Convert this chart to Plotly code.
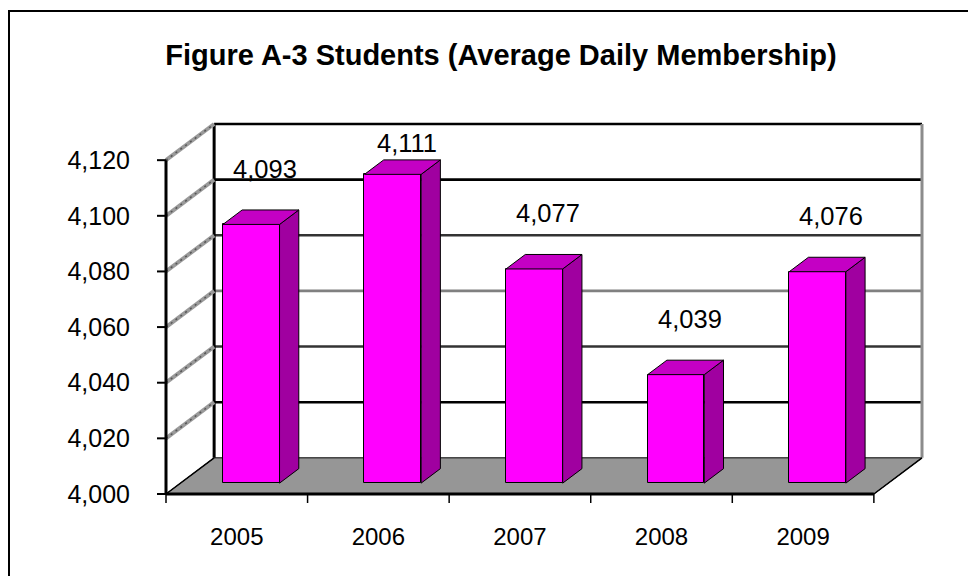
import plotly.graph_objects as go
import numpy as np

# ---- data ----
CATEGORIES = ["2005", "2006", "2007", "2008", "2009"]
VALUES = [4093, 4111, 4077, 4039, 4076]
Y_TICKS = [4000, 4020, 4040, 4060, 4080, 4100, 4120]
TITLE = "Figure A-3 Students (Average Daily Membership)"

# ---- style / 3D projection constants ----
BASE = Y_TICKS[0]
YMAX = Y_TICKS[-1]
DX = 0.34      # depth shift in category units
DY = 13.0      # depth shift in value units
F0, F1 = 0.3, 0.7   # bar front/back depth fractions
BW = 0.40      # bar width (category units)
TICK_X = 9 / 141.6
TICK_Y = 9 / 2.775
FONT = "Liberation Sans, Arial, sans-serif"

# page body has an 8px margin -> design in coordinates shifted by 8px
OFF = 8
FW, FH = 976 - OFF, 576 - OFF

n = len(CATEGORIES)
idx = np.arange(n)
x_left = -0.5
x_right = n - 0.5

fig = go.Figure()

# front faces of bars
fig.add_trace(go.Bar(
    x=idx + F0 * DX,
    y=[v - BASE for v in VALUES],
    base=BASE + F0 * DY,
    width=BW,
    marker=dict(color="#FF00FF", line=dict(color="black", width=1)),
    hoverinfo="skip",
))

shapes = []

def line(x0, y0, x1, y1, color="black", width=1, layer="below", dash=None):
    d = dict(type="line", x0=x0, y0=y0, x1=x1, y1=y1, xref="x", yref="y",
             line=dict(color=color, width=width), layer=layer)
    if dash:
        d["line"]["dash"] = dash
    shapes.append(d)

def poly(pts, fill, lcolor="black", lwidth=1, layer="above"):
    path = "M " + " L ".join(f"{px},{py}" for px, py in pts) + " Z"
    shapes.append(dict(type="path", path=path, xref="x", yref="y",
                       fillcolor=fill, line=dict(color=lcolor, width=lwidth), layer=layer))

# floor
poly([(x_left, BASE), (x_right, BASE), (x_right + DX, BASE + DY), (x_left + DX, BASE + DY)],
     "#969696", "black", 1, layer="below")

# back wall gridlines
grid_colors = {4020: "black", 4040: "#333333", 4060: "#808080", 4080: "#333333",
               4100: "black", 4120: "black"}
for v in Y_TICKS[1:]:
    line(x_left + DX, v + DY, x_right + DX, v + DY, grid_colors.get(v, "black"), 2.6)
# back wall edges
line(x_left + DX, BASE + DY, x_left + DX, YMAX + DY, "black", 3)
line(x_right + DX, BASE + DY, x_right + DX, YMAX + DY, "#8c8c8c", 3)
# right floor edge
line(x_right, BASE, x_right + DX, BASE + DY, "black", 1.5)
# left wall gridlines
for v in Y_TICKS[1:]:
    line(x_left, v, x_left + DX, v + DY, "#9a9a9a", 4)
    line(x_left, v, x_left + DX, v + DY, "#555555", 1.5, dash="2px,4px")
line(x_left, BASE, x_left + DX, BASE + DY, "black", 1.5)
# front axis line
line(x_left, BASE, x_left, YMAX, "black", 3)
# front floor edge
line(x_left, BASE, x_right, BASE, "black", 3)
# y ticks
for v in Y_TICKS:
    line(x_left - TICK_X, v, x_left, v, "black", 2)
# x ticks
for b in np.arange(n + 1) - 0.5:
    line(b, BASE, b, BASE - TICK_Y, "black", 1.5)

# side and top faces of bars
for i, v in enumerate(VALUES):
    xl = i - BW / 2 + F0 * DX
    xr = i + BW / 2 + F0 * DX
    ddx = (F1 - F0) * DX
    b0 = BASE + F0 * DY
    b1 = BASE + F1 * DY
    t0 = v + F0 * DY
    t1 = v + F1 * DY
    poly([(xr, b0), (xr, t0), (xr + ddx, t1), (xr + ddx, b1)], "#A000A0")
    poly([(xl, t0), (xr, t0), (xr + ddx, t1), (xl + ddx, t1)], "#C400C4")

# data labels
annotations = []
for i, v in enumerate(VALUES):
    annotations.append(dict(
        x=i + 0.2, y=min(v + 24, YMAX + 6), xref="x", yref="y",
        text=f"{v:,}", showarrow=False, xanchor="center", yanchor="middle",
        font=dict(family=FONT, size=25.5, color="black")))

# plot area in page pixels (reference coords), converted to figure coords
L, R, T, B = 157 - OFF, 926 - OFF, 120 - OFF, 503 - OFF
W, H = R - L, B - T
def px_x(p): return (p - OFF - L) / W
def px_y(p): return (B - (p - OFF)) / H
shapes.append(dict(type="rect", xref="paper", yref="paper",
                   x0=px_x(9), y0=px_y(700), x1=px_x(1100), y1=px_y(11),
                   line=dict(color="black", width=2), fillcolor="rgba(0,0,0,0)", layer="above"))

fig.update_layout(
    width=FW, height=FH,
    margin=dict(l=L, r=FW - R, t=T, b=FH - B),
    paper_bgcolor="white", plot_bgcolor="white",
    showlegend=False,
    shapes=shapes,
    annotations=annotations,
    title=dict(text=TITLE, x=(501 - OFF) / FW, xanchor="center", xref="container",
               y=1 - (55 - OFF) / FH, yanchor="middle", yref="container",
               font=dict(family=FONT, size=29, color="black", weight="bold")),
    xaxis=dict(range=[x_left - TICK_X, x_right + DX + 4 / 141.6],
               tickvals=list(idx), ticktext=CATEGORIES, ticks="",
               showgrid=False, zeroline=False, showline=False,
               ticklabelstandoff=17,
               tickfont=dict(family=FONT, size=24, color="black")),
    yaxis=dict(range=[BASE - TICK_Y, YMAX + DY + 4 / 2.775],
               tickvals=Y_TICKS, tickformat=",", ticks="",
               showgrid=False, zeroline=False, showline=False,
               ticklabelstandoff=26,
               tickfont=dict(family=FONT, size=25, color="black")),
    bargap=0,
)

fig.write_html("out.html")
